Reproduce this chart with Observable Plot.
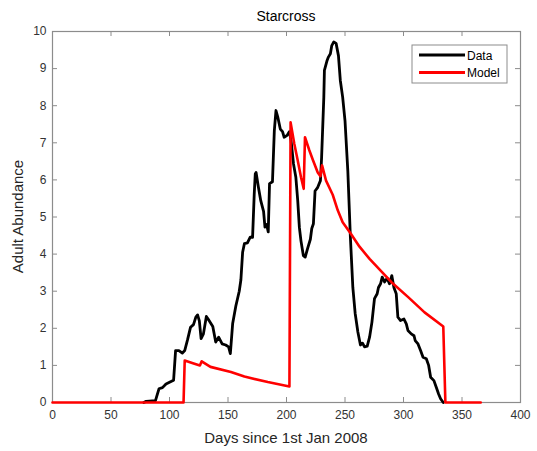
<!DOCTYPE html>
<html>
<head>
<meta charset="utf-8">
<script src="https://cdn.jsdelivr.net/npm/d3@7"></script>
<script src="https://cdn.jsdelivr.net/npm/@observablehq/plot@0.6"></script>
<style>
  body { margin: 0; background: #fff; }
  #chart { position: relative; width: 537px; height: 451px; }
</style>
</head>
<body>
<div id="chart"></div>
<script>
const dataDays = [78,80,88,91,94,97,103.5,105.2,108,111,113,115.5,118,120.5,122.5,124,125.5,127,129,131.5,133,135,137,139.5,142,145,148,150.5,152,154,156.7,159.6,161,162.5,164,166.6,169,171,172.4,173.3,174,176,178,180.4,181.6,183,184.4,185.5,188,189.6,191,192.5,194.7,196.6,198,200.5,202.4,203.9,206,208,209.6,211,212.4,214.4,216,218,220.4,221.6,223,224.4,226.7,229,230,231.9,232.4,234.7,235.8,237.5,238.7,240.4,242.4,244.4,246,248,250,252.4,254.6,256.7,258.7,261,263.2,265,266.7,269,271,273,275.2,277.5,278.6,280.4,281.8,283.8,286,288,290,291.8,293.8,295.2,297.5,300.4,302.4,303.8,306.6,309,310,312.4,314.6,316.7,319.5,321.5,323.2,326,328,330,331.7,334];
const dataVals = [0,0.03,0.05,0.37,0.4,0.5,0.6,1.4,1.4,1.33,1.4,1.7,2.03,2.1,2.3,2.36,2.2,1.72,1.85,2.32,2.25,2.15,2.05,1.63,1.76,1.58,1.55,1.5,1.32,2.13,2.6,3.0,3.3,4.05,4.28,4.3,4.46,4.45,5.6,6.16,6.2,5.8,5.44,5.15,4.73,4.8,4.6,5.9,5.95,7.33,7.87,7.7,7.37,7.3,7.15,7.2,7.3,7.06,6.43,6.07,5.44,4.72,4.35,3.96,3.92,4.15,4.4,4.69,4.82,5.7,5.8,5.98,6.6,8.23,8.95,9.22,9.31,9.4,9.62,9.72,9.68,9.35,8.68,8.23,7.6,6.25,4.46,3.1,2.4,1.9,1.55,1.6,1.5,1.52,1.76,2.16,2.8,2.93,3.1,3.2,3.38,3.25,3.35,3.2,3.42,3.1,2.93,2.3,2.21,2.25,2.12,1.94,1.85,1.8,1.67,1.58,1.4,1.22,1.18,1.0,0.68,0.59,0.41,0.23,0.1,0];

const modelDays = [0,112,113,120,126,127.5,135,152.5,164,184,202.5,203.5,206.7,209.6,212.4,214.7,215.8,219.5,222.4,226.7,229,230.4,233.8,239.5,243.8,248,255,262.4,271,289.5,304,318,334,335.8,366];
const modelVals = [0,0,1.13,1.06,1.0,1.11,0.96,0.82,0.7,0.55,0.43,7.55,6.97,6.52,6.07,5.76,7.15,6.8,6.55,6.2,6.1,6.39,5.98,5.6,5.18,4.86,4.55,4.2,3.87,3.25,2.84,2.43,2.05,0,0];

const xTicks = [0,50,100,150,200,250,300,350,400];
const yTicks = [0,1,2,3,4,5,6,7,8,9,10];

const titleText = "Starcross";
const xLabel = "Days since 1st Jan 2008";
const yLabel = "Adult Abundance";
const seriesNames = ["Data", "Model"];
const seriesColors = ["#000000", "#ff0000"];

const dataRows = dataDays.map((d, i) => ({day: d, value: dataVals[i]}));
const modelRows = modelDays.map((d, i) => ({day: d, value: modelVals[i]}));

const W = 537, H = 451;
const mL = 52, mR = 17, mT = 31, mB = 49;
const axisGray = "#8c8c8c";
const labelGray = "#333333";
const tickLenPx = 5;
const xTickLen = tickLenPx * 400 / (W - mL - mR);
const yTickLen = tickLenPx * 10 / (H - mT - mB);

const plot = Plot.plot({
  width: W,
  height: H,
  marginLeft: mL,
  marginRight: mR,
  marginTop: mT,
  marginBottom: mB,
  style: {fontFamily: "'Liberation Sans', Arial, Helvetica, sans-serif", fontSize: "12px", background: "#fff", overflow: "visible", color: labelGray},
  x: {domain: [0, 400]},
  y: {domain: [0, 10]},
  marks: [
    Plot.frame({stroke: axisGray, strokeWidth: 1.2}),
    // inward ticks on all four sides
    Plot.ruleX(xTicks, {x: d => d, y1: 0, y2: yTickLen, stroke: axisGray, strokeWidth: 1}),
    Plot.ruleX(xTicks, {x: d => d, y1: 10 - yTickLen, y2: 10, stroke: axisGray, strokeWidth: 1}),
    Plot.ruleY(yTicks, {y: d => d, x1: 0, x2: xTickLen, stroke: axisGray, strokeWidth: 1}),
    Plot.ruleY(yTicks, {y: d => d, x1: 400 - xTickLen, x2: 400, stroke: axisGray, strokeWidth: 1}),
    Plot.axisX({ticks: xTicks, tickSize: 0, tickPadding: 8, label: null, fill: labelGray, fontSize: 12}),
    Plot.axisY({ticks: yTicks, tickSize: 0, tickPadding: 6, label: null, fill: labelGray, fontSize: 12}),
    Plot.line(dataRows, {x: "day", y: "value", stroke: seriesColors[0], strokeWidth: 2.8, strokeLinejoin: "round"}),
    Plot.line(modelRows, {x: "day", y: "value", stroke: seriesColors[1], strokeWidth: 2.6, strokeLinejoin: "round"})
  ]
});

document.getElementById("chart").appendChild(plot);

const svg = d3.select(plot);
const font = "'Liberation Sans', Arial, Helvetica, sans-serif";
const cx = mL + (W - mL - mR) / 2;

svg.append("text").attr("x", cx).attr("y", 21).attr("text-anchor", "middle")
  .attr("font-family", font).attr("font-size", 14).attr("fill", "#000").text(titleText);
svg.append("text").attr("x", cx).attr("y", 443).attr("text-anchor", "middle")
  .attr("font-family", font).attr("font-size", 15).attr("fill", "#262626").text(xLabel);
svg.append("text").attr("transform", `translate(23,${mT + (H - mT - mB) / 2}) rotate(-90)`)
  .attr("text-anchor", "middle").attr("font-family", font).attr("font-size", 15)
  .attr("fill", "#262626").text(yLabel);

// legend
const lg = svg.append("g").attr("transform", "translate(412,45)");
lg.append("rect").attr("x", 0).attr("y", 0).attr("width", 95).attr("height", 38)
  .attr("fill", "#fff").attr("stroke", axisGray).attr("stroke-width", 1);
seriesNames.forEach((name, i) => {
  const yy = 10 + i * 17.5;
  lg.append("line").attr("x1", 7).attr("x2", 53).attr("y1", yy).attr("y2", yy)
    .attr("stroke", seriesColors[i]).attr("stroke-width", 2.8);
  lg.append("text").attr("x", 55).attr("y", yy + 4.5).attr("text-anchor", "start")
    .attr("font-family", font).attr("font-size", 12).attr("fill", "#000").text(name);
});
</script>
</body>
</html>
